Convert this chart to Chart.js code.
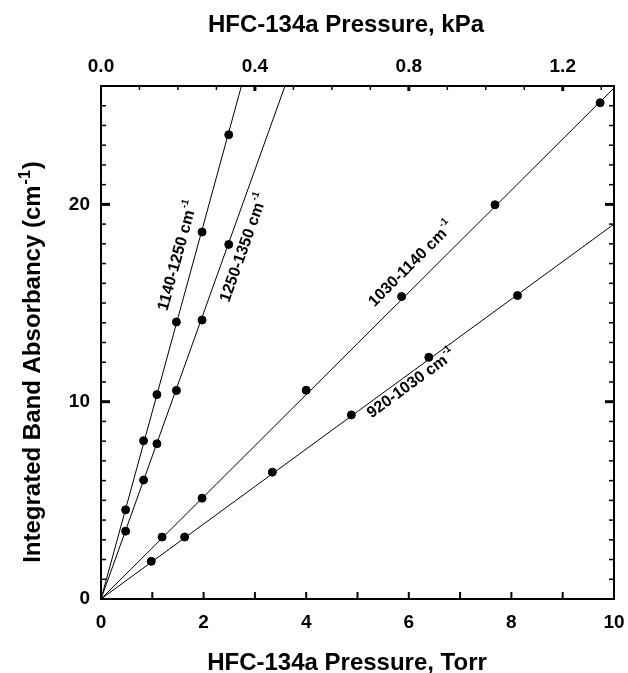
<!DOCTYPE html>
<html>
<head>
<meta charset="utf-8">
<script src="https://cdn.jsdelivr.net/npm/chart.js@4.4.0/dist/chart.umd.min.js"></script>
<style>
  html, body { margin: 0; padding: 0; background: #fff; overflow: hidden; }
  #wrap { width: 628px; height: 673px; position: relative; }
  #absChart { display: block; }
</style>
</head>
<body>
<div id="wrap"><canvas id="absChart"></canvas></div>
<script>
// pressures (Torr) and integrated band absorbancies (cm-1)
const torrA = [0.48, 0.83, 1.09, 1.47, 1.97, 2.49];
const band1140 = [4.52, 8.02, 10.36, 14.04, 18.6, 23.53];
const band1250 = [3.44, 6.03, 7.87, 10.57, 14.14, 17.97];
const torrB = [1.19, 1.97, 4.00, 5.86, 7.68, 9.73];
const band1030 = [3.14, 5.11, 10.58, 15.33, 19.98, 25.15];
const torrC = [0.98, 1.63, 3.34, 4.88, 6.39, 8.12];
const band920 = [1.91, 3.14, 6.43, 9.33, 12.25, 15.38];

// slopes of the straight lines through the origin (cm-1 per Torr)
const fitSlopes = [9.5, 7.25, 2.59, 1.90];
const bandNames = ["1140-1250", "1250-1350", "1030-1140", "920-1030"];

// axis ticks
const torrLabels = [0, 2, 4, 6, 8, 10];
const torrMinor = [1, 2, 3, 4, 5, 6, 7, 8, 9];
const kpaLabels = [0, 0.4, 0.8, 1.2];
const kpaMinor = [0.1, 0.2, 0.3, 0.4, 0.5, 0.6, 0.7, 0.8, 0.9, 1.0, 1.1, 1.2, 1.3];
const yLabels = [0, 10, 20];
const yMinor = [1, 2, 3, 4, 5, 6, 7, 8, 9, 10, 11, 12, 13, 14, 15, 16, 17, 18, 19, 20, 21, 22, 23, 24, 25];

const TORR_MAX = 10;
const Y_MAX = 26;
const KPA_PER_TORR = 0.133322;

const FONT = '"Liberation Sans", Arial, Helvetica, sans-serif';
Chart.defaults.font.family = FONT;
Chart.defaults.color = '#000';

function pts(xs, ys) {
    return xs.map((x, i) => ({ x: x, y: ys[i] }));
}

const pointSets = [pts(torrA, band1140), pts(torrA, band1250), pts(torrB, band1030), pts(torrC, band920)];

const datasets = [];
fitSlopes.forEach(function (k) {
    datasets.push({
        type: 'line',
        data: [{ x: 0, y: 0 }, { x: TORR_MAX, y: k * TORR_MAX }],
        borderColor: '#000',
        borderWidth: 1,
        pointRadius: 0,
        fill: false
    });
});
pointSets.forEach(function (d) {
    datasets.push({
        type: 'scatter',
        data: d,
        backgroundColor: '#000',
        borderColor: '#000',
        pointRadius: 4,
        pointHoverRadius: 4
    });
});

// where the band names sit (data coords of the text centre)
const labelSpots = [
    { x: 1.50, y: 17.4 },
    { x: 2.79, y: 17.8 },
    { x: 6.05, y: 16.96 },
    { x: 6.05, y: 10.9 }
];

function supText(ctx, main, sup, tail, size, x0, y0) {
    ctx.font = 'bold ' + size + 'px ' + FONT;
    ctx.fillText(main, x0, y0);
    let x = x0 + ctx.measureText(main).width + 1;
    ctx.font = 'bold ' + Math.round(size * 0.65) + 'px ' + FONT;
    ctx.fillText(sup, x, y0 - size * 0.42);
    x += ctx.measureText(sup).width + 1;
    if (tail) {
        ctx.font = 'bold ' + size + 'px ' + FONT;
        ctx.fillText(tail, x, y0);
    }
}

function supWidth(ctx, main, sup, tail, size) {
    ctx.font = 'bold ' + size + 'px ' + FONT;
    let w = ctx.measureText(main).width + 1;
    if (tail) w += ctx.measureText(tail).width + 1;
    ctx.font = 'bold ' + Math.round(size * 0.65) + 'px ' + FONT;
    return w + ctx.measureText(sup).width;
}

const framePlugin = {
    id: 'framePlugin',
    afterDatasetsDraw(chart) {
        const ctx = chart.ctx;
        const a = chart.chartArea;
        const sx = chart.scales.x, sx2 = chart.scales.x2, sy = chart.scales.y;
        ctx.save();
        ctx.strokeStyle = '#000';
        ctx.lineCap = 'butt';

        function seg(x1, y1, x2, y2, w) {
            ctx.lineWidth = w;
            ctx.beginPath();
            ctx.moveTo(x1, y1);
            ctx.lineTo(x2, y2);
            ctx.stroke();
        }

        // bottom ticks (Torr)
        torrMinor.forEach(function (v) {
            const p = sx.getPixelForValue(v);
            seg(p, a.bottom, p, a.bottom - 7, 2);
        });
        // top ticks (kPa)
        kpaMinor.forEach(function (v) {
            const p = sx2.getPixelForValue(v);
            const major = kpaLabels.some(m => Math.abs(m - v) < 1e-6);
            seg(p, a.top, p, a.top + (major ? 5 : 4), major ? 3 : 1.5);
        });
        // left and right ticks
        yMinor.forEach(function (v) {
            const p = sy.getPixelForValue(v);
            const major = yLabels.includes(v);
            const len = major ? 9 : 5;
            const w = major ? 3 : 1.5;
            seg(a.left, p, a.left + len, p, w);
            seg(a.right, p, a.right - len, p, w);
        });

        // frame
        ctx.lineWidth = 2;
        ctx.strokeRect(a.left, a.top, a.right - a.left, a.bottom - a.top);

        // band names along the lines
        ctx.fillStyle = '#000';
        ctx.textBaseline = 'middle';
        ctx.textAlign = 'left';
        bandNames.forEach(function (name, i) {
            const k = fitSlopes[i];
            const spot = labelSpots[i];
            const px = sx.getPixelForValue(spot.x);
            const py = sy.getPixelForValue(spot.y);
            const ang = Math.atan2(sy.getPixelForValue(k) - sy.getPixelForValue(0),
                                   sx.getPixelForValue(1) - sx.getPixelForValue(0));
            ctx.save();
            ctx.translate(px, py);
            ctx.rotate(ang);
            const w = supWidth(ctx, name + ' cm', '-1', '', 16);
            supText(ctx, name + ' cm', '-1', '', 16, -w / 2, 0);
            ctx.restore();
        });

        // axis titles
        ctx.textBaseline = 'alphabetic';
        ctx.textAlign = 'center';
        ctx.font = 'bold 24px ' + FONT;
        ctx.fillText('HFC-134a Pressure, kPa', 346, 32);
        ctx.fillText('HFC-134a Pressure, Torr', 347, 670);

        ctx.save();
        ctx.translate(40, 362);
        ctx.rotate(-Math.PI / 2);
        ctx.textAlign = 'left';
        const tw = supWidth(ctx, 'Integrated Band Absorbancy (cm', '-1', ')', 24);
        supText(ctx, 'Integrated Band Absorbancy (cm', '-1', ')', 24, -tw / 2, 0);
        ctx.restore();

        ctx.restore();
    }
};

function fixedTicks(list) {
    return function (scale) {
        scale.ticks = list.map(v => ({ value: v }));
    };
}

// keep the plot box fixed: no extra room reserved for the end labels
function fixHeight(h) {
    return function (s) {
        s.height = h;
        s.paddingLeft = 0;
        s.paddingRight = 0;
    };
}

const tickFont = { size: 19, weight: 'bold' };

new Chart(document.getElementById('absChart'), {
    type: 'scatter',
    data: { datasets: datasets },
    options: {
        responsive: true,
        maintainAspectRatio: false,
        animation: false,
        layout: { padding: 0 },
        plugins: {
            legend: { display: false },
            tooltip: { enabled: false }
        },
        scales: {
            x: {
                type: 'linear',
                position: 'bottom',
                min: 0,
                max: TORR_MAX,
                afterBuildTicks: fixedTicks(torrLabels),
                afterFit: fixHeight(74),
                grid: { display: false, drawTicks: false },
                border: { display: false },
                ticks: { font: tickFont, padding: 12, maxRotation: 0, autoSkip: false }
            },
            x2: {
                type: 'linear',
                position: 'top',
                min: 0,
                max: TORR_MAX * KPA_PER_TORR,
                afterBuildTicks: fixedTicks(kpaLabels),
                afterFit: fixHeight(86),
                grid: { display: false, drawTicks: false },
                border: { display: false },
                ticks: { font: tickFont, padding: 8, maxRotation: 0, autoSkip: false,
                         callback: v => Number(v).toFixed(1) }
            },
            y: {
                type: 'linear',
                position: 'left',
                min: 0,
                max: Y_MAX,
                afterBuildTicks: fixedTicks(yLabels),
                afterFit: s => { s.width = 101; s.paddingTop = 0; s.paddingBottom = 0; },
                grid: { display: false, drawTicks: false },
                border: { display: false },
                ticks: { font: tickFont, padding: 11, autoSkip: false }
            },
            y2: {
                type: 'linear',
                position: 'right',
                min: 0,
                max: Y_MAX,
                afterFit: s => { s.width = 14; s.paddingTop = 0; s.paddingBottom = 0; },
                grid: { display: false, drawTicks: false },
                border: { display: false },
                ticks: { display: false }
            }
        }
    },
    plugins: [framePlugin]
});
</script>
</body>
</html>
